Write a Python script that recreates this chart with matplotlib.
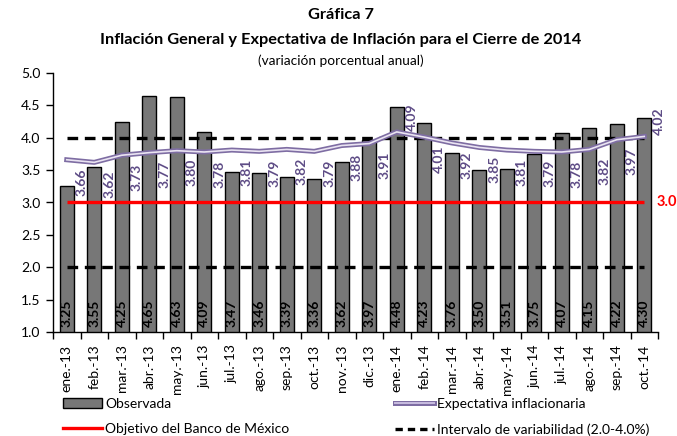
import matplotlib
matplotlib.use("Agg")
import matplotlib.pyplot as plt
from matplotlib.patches import Patch
from matplotlib.lines import Line2D
import matplotlib.patheffects as pe

plt.rcParams['font.family'] = ['Lato', 'DejaVu Sans']

# data
meses = ["ene.-13", "feb.-13", "mar.-13", "abr.-13", "may.-13", "jun.-13",
         "jul.-13", "ago.-13", "sep.-13", "oct.-13", "nov.-13", "dic.-13",
         "ene.-14", "feb.-14", "mar.-14", "abr.-14", "may.-14", "jun.-14",
         "jul.-14", "ago.-14", "sep.-14", "oct.-14"]
observada = [3.25, 3.55, 4.25, 4.65, 4.63, 4.09, 3.47, 3.46, 3.39, 3.36, 3.62,
             3.97, 4.48, 4.23, 3.76, 3.50, 3.51, 3.75, 4.07, 4.15, 4.22, 4.30]
expectativa = [3.66, 3.62, 3.73, 3.77, 3.80, 3.78, 3.81, 3.79, 3.82, 3.79, 3.88,
               3.91, 4.09, 4.01, 3.92, 3.85, 3.81, 3.79, 3.78, 3.82, 3.97, 4.02]
objetivo = 3.0
intervalo = (2.0, 4.0)

# labels that Excel put above the line instead of below
etiqueta_arriba = {12, 21}

fig = plt.figure(figsize=(6.77, 4.36), dpi=100)
ax = fig.add_axes([53 / 677, 1 - 332 / 436, 605 / 677, 259 / 436])

x = list(range(len(meses)))
bar_color = "#777777"
purple = "#7E6DA3"
label_purple = "#5E4C86"
lab_fs = 10

ax.bar(x, observada, width=0.5, bottom=0, color=bar_color,
       edgecolor="black", linewidth=1.0, zorder=2)

for xi, v in zip(x, observada):
    ax.text(xi, 1.08, f"{v:.2f}", rotation=90, ha="center", va="bottom",
            fontsize=lab_fs, fontweight="bold", color="black", zorder=5)

# objetivo e intervalo
ax.plot([x[0], x[-1]], [objetivo, objetivo], color="#FF0000", lw=2.4,
        solid_capstyle="butt", zorder=3)
for lvl in intervalo:
    ax.plot([x[0], x[-1]], [lvl, lvl], color="black", lw=2.4,
            dashes=(3.2, 2.0), zorder=3)

# double line for the expectation
ax.plot(x, expectativa, color=purple, lw=3.6, zorder=4)
ax.plot(x, expectativa, color="#EAE4F2", lw=1.2, zorder=4)

for i, (xi, v) in enumerate(zip(x, expectativa)):
    if i in etiqueta_arriba:
        ax.text(xi + 0.55, v + 0.02, f"{v:.2f}", rotation=90, ha="center",
                va="bottom", fontsize=lab_fs, fontweight="bold",
                color=label_purple, zorder=5)
    else:
        ax.text(xi + 0.55, v - 0.13, f"{v:.2f}", rotation=90, ha="center",
                va="top", fontsize=lab_fs, fontweight="bold",
                color=label_purple, zorder=5)

ax.text(x[-1] + 0.45, objetivo, "3.0", color="#FF0000", fontsize=10.5,
        fontweight="bold", ha="left", va="center")

ax.set_xlim(-0.5, len(meses) - 0.5)
ax.set_ylim(1.0, 5.0)
ax.set_yticks([1.0, 1.5, 2.0, 2.5, 3.0, 3.5, 4.0, 4.5, 5.0])
ax.set_yticklabels([f"{t:.1f}" for t in ax.get_yticks()], fontsize=10)
ax.set_xticks([i - 0.5 for i in range(len(meses) + 1)])
ax.set_xticklabels([])
ax.set_xticks(x, minor=True)
ax.set_xticklabels(meses, minor=True, rotation=90, fontsize=10)
ax.tick_params(axis="x", which="minor", length=0, pad=9)
ax.tick_params(axis="x", which="major", length=5, direction="out", width=1)
ax.tick_params(axis="y", length=5, direction="out", width=1, pad=4)
for s in ["top", "right"]:
    ax.spines[s].set_visible(False)
ax.spines["left"].set_linewidth(1)
ax.spines["bottom"].set_linewidth(1)

# titles
fig.text(341 / 677, 1 - 15 / 436, "Gráfica 7", ha="center", va="center",
         fontsize=11.8, fontweight="bold")
fig.text(341 / 677, 1 - 40 / 436,
         "Inflación General y Expectativa de Inflación para el Cierre de 2014",
         ha="center", va="center", fontsize=11.8, fontweight="bold")
fig.text(341 / 677, 1 - 61 / 436, "(variación porcentual anual)", ha="center",
         va="center", fontsize=9.8)

# legend, two columns
h_obs = Patch(facecolor=bar_color, edgecolor="black", linewidth=1)
h_obj = Line2D([], [], color="#FF0000", lw=2.4)
h_exp = Line2D([], [], color=purple, lw=3.6)
h_int = Line2D([], [], color="black", lw=2.4, dashes=(2.2, 1.5))

leg_kw = dict(frameon=False, fontsize=10, handlelength=2.8,
              handletextpad=0.25, labelspacing=0.95, borderpad=0,
              borderaxespad=0)
l1 = fig.legend([h_obs, h_obj], ["Observada", "Objetivo del Banco de México"],
                loc="upper left", bbox_to_anchor=(63 / 677, 1 - 398 / 436),
                **leg_kw)
l2 = fig.legend([h_exp, h_int],
                ["Expectativa inflacionaria", "Intervalo de variabilidad (2.0-4.0%)"],
                loc="upper left", bbox_to_anchor=(395 / 677, 1 - 398 / 436),
                **leg_kw)
# inner light line for the double-line legend handle
l2.get_lines()[0].set_path_effects([
    pe.Stroke(linewidth=3.6, foreground=purple),
    pe.Stroke(linewidth=1.4, foreground="#C9BDE0")])

fig.savefig("out.png", dpi=100)
